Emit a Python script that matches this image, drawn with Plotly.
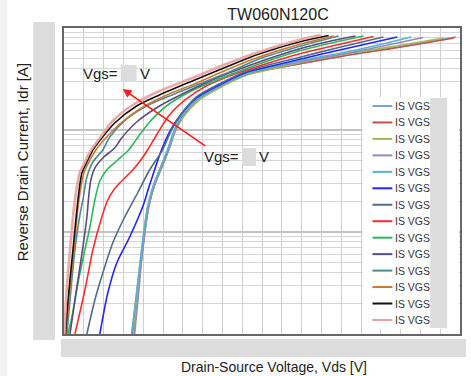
import plotly.graph_objects as go

# ---------------- data ----------------
series_names = ["IS VGS"] * 14
series_colors = ["#7aa3d6", "#c0504d", "#9bbb59", "#9a85be", "#56b5cc", "#2323ff", "#4f6b8f",
                 "#ff2b2b", "#2cb85c", "#5e4a7e", "#4a8b98", "#d2762a", "#111111", "#eaa0a0"]

vds_lightblue = [1.709, 1.834, 1.960, 2.111, 2.261, 2.412, 2.613, 2.789, 2.965, 3.342, 3.920, 4.598, 4.925, 5.930, 7.186, 8.442, 9.899]
idr_lightblue = [0.1, 0.2522, 0.6668, 1.758, 2.891, 4.053, 6.364, 10, 13.72, 20.14, 27.00, 35.39, 37.88, 44.37, 54.37, 65.14, 81.63]

vds_darkred = [1.734, 1.859, 1.985, 2.136, 2.286, 2.437, 2.638, 2.814, 2.990, 3.367, 3.945, 4.623, 4.925, 5.930, 7.186, 8.442, 9.849]
idr_darkred = [0.1, 0.2522, 0.6668, 1.758, 2.891, 4.053, 6.364, 10, 13.72, 20.14, 27.00, 35.39, 37.46, 44.37, 54.37, 64.4, 79.82]

vds_olive = [1.759, 1.859, 1.985, 2.136, 2.286, 2.437, 2.638, 2.814, 3.015, 3.417, 3.970, 4.623, 4.925, 5.930, 7.437, 8.693, 9.598]
idr_olive = [0.1, 0.2522, 0.6668, 1.758, 2.891, 3.963, 6.223, 9.772, 13.41, 19.68, 26.42, 34.60, 37.03, 45.38, 58.18, 69.70, 79.82]

vds_lavender = [1.784, 1.884, 1.985, 2.136, 2.286, 2.437, 2.638, 2.814, 2.990, 3.392, 3.945, 4.623, 4.925, 5.930, 7.437, 9.070]
idr_lavender = [0.1, 0.2522, 0.6668, 1.758, 2.891, 4.053, 6.364, 10, 13.72, 20.14, 27.00, 35.39, 38.31, 46.42, 59.51, 80.72]

vds_cyan = [1.709, 1.834, 1.960, 2.111, 2.261, 2.412, 2.613, 2.789, 2.965, 3.367, 3.920, 4.598, 4.925, 5.930, 7.437, 8.769]
idr_cyan = [0.1, 0.2522, 0.6668, 1.758, 2.891, 4.053, 6.364, 10, 13.72, 20.14, 27.00, 35.39, 38.74, 47.48, 61.56, 81.63]

vds_blue = [0.905, 1.106, 1.332, 1.658, 1.985, 2.161, 2.286, 2.462, 2.663, 2.940, 3.342, 3.920, 4.598, 4.925, 5.930, 7.186, 8.417]
idr_blue = [0.1, 0.2522, 0.4966, 0.8933, 1.758, 2.891, 4.053, 6.364, 9.557, 14.03, 20.60, 27.62, 36.62, 39.63, 49.12, 63.68, 81.63]

vds_slate = [0.578, 0.779, 0.980, 1.231, 1.533, 1.859, 2.161, 2.487, 2.714, 2.965, 3.342, 3.920, 4.598, 4.925, 5.930, 6.935, 8.065]
idr_slate = [0.1, 0.2154, 0.3963, 0.780, 1.403, 2.412, 4.053, 6.364, 10, 14.35, 21.08, 28.25, 37.46, 40.99, 51.38, 64.4, 81.63]

vds_red = [0.276, 0.528, 0.729, 0.955, 1.106, 1.256, 1.407, 1.734, 1.960, 2.111, 2.337, 2.663, 3.090, 3.593, 4.246, 4.925, 5.930, 6.935, 7.814]
idr_red = [0.1, 0.270, 0.6668, 1.403, 2.060, 2.582, 3.022, 4.053, 5.20, 6.364, 8.94, 14.03, 20.14, 27.00, 34.60, 42.41, 55.61, 68.9, 82.55]

vds_green = [0.101, 0.201, 0.352, 0.528, 0.653, 0.779, 0.905, 1.080, 1.357, 1.633, 1.834, 2.161, 2.588, 3.166, 3.920, 4.925, 5.930, 6.809, 7.563]
idr_green = [0.1, 0.1468, 0.3162, 0.6668, 1.119, 2.060, 3.162, 4.053, 5.080, 6.364, 8.166, 11.98, 17.19, 23.60, 31.62, 44.37, 59.51, 72.1, 83.48]

vds_darkpurple = [0.151, 0.276, 0.402, 0.503, 0.578, 0.628, 0.678, 0.779, 1.005, 1.281, 1.457, 1.834, 2.412, 3.090, 3.920, 4.925, 5.930, 6.683, 7.362]
idr_darkpurple = [0.1, 0.2154, 0.4539, 0.8354, 1.403, 2.306, 3.234, 4.240, 5.433, 6.665, 8.354, 11.98, 17.19, 23.60, 33.08, 46.42, 62.26, 73.75, 83.48]

vds_teal = [0.075, 0.151, 0.276, 0.402, 0.477, 0.578, 0.729, 0.980, 1.156, 1.583, 2.085, 2.663, 3.417, 4.171, 4.925, 5.930, 6.935]
idr_teal = [0.1, 0.2154, 0.6668, 1.469, 2.060, 3.460, 4.855, 6.364, 8.535, 12.82, 17.19, 21.56, 28.25, 37.03, 49.68, 65.87, 83.48]

vds_orange = [0.063, 0.126, 0.251, 0.377, 0.503, 0.628, 0.804, 1.055, 1.407, 1.910, 2.538, 3.291, 4.095, 4.925, 5.930, 6.809]
idr_orange = [0.1, 0.2154, 0.6668, 2.060, 3.788, 4.855, 6.364, 8.354, 11.45, 16.07, 21.56, 28.25, 38.74, 51.97, 68.9, 83.48]

vds_black = [0.038, 0.101, 0.226, 0.352, 0.452, 0.578, 0.729, 0.955, 1.281, 1.834, 2.412, 3.241, 4.095, 4.925, 5.930, 6.683]
idr_black = [0.1, 0.2154, 0.6668, 2.060, 3.788, 4.855, 6.364, 8.354, 11.71, 17.19, 22.05, 30.22, 41.46, 55.61, 72.9, 84.42]

vds_pink = [0.013, 0.050, 0.151, 0.276, 0.402, 0.528, 0.653, 0.905, 1.231, 1.734, 2.412, 3.241, 4.095, 4.925, 5.930, 6.482]
idr_pink = [0.1, 0.2154, 0.6668, 2.060, 3.873, 4.855, 6.084, 8.354, 12.25, 17.59, 24.12, 32.34, 44.37, 58.18, 76.27, 85.37]

series_x = [vds_lightblue, vds_darkred, vds_olive, vds_lavender, vds_cyan, vds_blue, vds_slate,
            vds_red, vds_green, vds_darkpurple, vds_teal, vds_orange, vds_black, vds_pink]
series_y = [idr_lightblue, idr_darkred, idr_olive, idr_lavender, idr_cyan, idr_blue, idr_slate,
            idr_red, idr_green, idr_darkpurple, idr_teal, idr_orange, idr_black, idr_pink]
series_widths = [1.6] * 13 + [2.6]

x_range = [0, 10]
x_dtick = 0.5
y_range_log = [-1, 2]

# ---------------- layout helpers (pixel -> paper) ----------------
W, H = 471, 376
PL, PR, PT, PB = 64, 462, 28, 334


def px(xp):
    return (xp - PL) / (PR - PL)


def py(yp):
    return (PB - yp) / (PB - PT)


fig = go.Figure()
for xs, ys, name, col, lw in zip(series_x, series_y, series_names, series_colors, series_widths):
    fig.add_trace(go.Scatter(x=xs, y=ys, mode="lines", name=name,
                             line=dict(color=col, width=lw, shape="spline", smoothing=0.8),
                             opacity=0.9 if lw > 2 else 1.0, showlegend=False))

FONT = "Arial, Liberation Sans, sans-serif"
shapes = []
annotations = []

# light strip on the far left of the picture
shapes.append(dict(type="rect", xref="paper", yref="paper", x0=px(0), x1=px(7), y0=py(0), y1=py(376),
                   fillcolor="#f2f2f2", line_width=0, layer="below"))
# grey boxes hiding tick labels
shapes.append(dict(type="rect", xref="paper", yref="paper", x0=px(33), x1=px(55), y0=py(340), y1=py(22),
                   fillcolor="#dcdcdc", line_width=0))
shapes.append(dict(type="rect", xref="paper", yref="paper", x0=px(61), x1=px(468), y0=py(357), y1=py(339),
                   fillcolor="#dcdcdc", line_width=0))

# legend (drawn by hand so the row spacing matches)
shapes.append(dict(type="rect", xref="paper", yref="paper", x0=px(364), x1=px(461), y0=py(329), y1=py(97),
                   fillcolor="white", line_width=0, layer="above"))
shapes.append(dict(type="rect", xref="paper", yref="paper", x0=px(432), x1=px(449), y0=py(328), y1=py(98),
                   fillcolor="#dcdcdc", line_width=0, layer="above"))
for i, (name, col) in enumerate(zip(series_names, series_colors)):
    yc = 106 + i * 16.46
    shapes.append(dict(type="line", xref="paper", yref="paper", x0=px(374), x1=px(394), y0=py(yc), y1=py(yc),
                       line=dict(color=col, width=2), layer="above"))
    annotations.append(dict(xref="paper", yref="paper", x=px(395), y=py(yc), text=name, showarrow=False,
                            xanchor="left", yanchor="middle", font=dict(family=FONT, size=10.5, color="#333333")))

# "Vgs=  V" labels with hidden values
shapes.append(dict(type="rect", xref="paper", yref="paper", x0=px(121), x1=px(137), y0=py(82), y1=py(65),
                   fillcolor="#dcdcdc", line_width=0, layer="above"))
shapes.append(dict(type="rect", xref="paper", yref="paper", x0=px(243), x1=px(257), y0=py(166), y1=py(148),
                   fillcolor="#dcdcdc", line_width=0, layer="above"))
for xa, ya, txt, anc in [(120, 73, "Vgs=", "right"), (138, 73, "V", "left"),
                          (242, 157, "Vgs=", "right"), (258, 157, "V", "left")]:
    annotations.append(dict(xref="paper", yref="paper", x=px(xa), y=py(ya), text=txt, showarrow=False,
                            xanchor=anc, yanchor="middle", font=dict(family=FONT, size=15, color="#222222")))

# red arrow
annotations.append(dict(xref="paper", yref="paper", x=px(123), y=py(89), text="", showarrow=True,
                        ax=207 - 123, ay=147 - 89, arrowcolor="#ff1a1a", arrowwidth=1.6, arrowhead=2,
                        arrowsize=1.1, standoff=0, startstandoff=0))

# axis titles
annotations.append(dict(xref="paper", yref="paper", x=px(275), y=py(367), text="Drain-Source Voltage, Vds [V]",
                        showarrow=False, xanchor="center", yanchor="middle",
                        font=dict(family=FONT, size=14, color="#222222")))
annotations.append(dict(xref="paper", yref="paper", x=px(22), y=py(162), text="Reverse Drain Current, Idr [A]",
                        showarrow=False, textangle=-90, xanchor="center", yanchor="middle",
                        font=dict(family=FONT, size=15, color="#222222")))

fig.update_layout(
    width=W, height=H,
    margin=dict(l=PL, r=W - PR, t=PT, b=H - PB, pad=0),
    paper_bgcolor="white", plot_bgcolor="white",
    showlegend=False,
    font=dict(family=FONT, color="#222222"),
    title=dict(text="TW060N120C", x=278 / W, xanchor="center", y=1 - 14 / H, yanchor="middle",
               font=dict(family=FONT, size=16, color="#222222")),
    shapes=shapes, annotations=annotations,
)
fig.update_xaxes(range=x_range, dtick=x_dtick, showticklabels=False, ticks="",
                 showgrid=True, gridcolor="#cfcfcf", gridwidth=1.3,
                 showline=True, mirror=True, linecolor="#666666", linewidth=1.5, zeroline=False)
fig.update_yaxes(type="log", range=y_range_log, dtick=1, showticklabels=False, ticks="",
                 showgrid=True, gridcolor="#c4c4c4", gridwidth=1.5,
                 minor=dict(dtick="D1", showgrid=True, gridcolor="#d6d6d6", gridwidth=1.2, ticks=""),
                 showline=True, mirror=True, linecolor="#666666", linewidth=1.5, zeroline=False)

fig.write_html("out.html", config={"displayModeBar": False},
               post_script="document.body.style.margin='0';")
